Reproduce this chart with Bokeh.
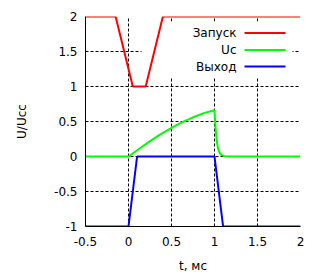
from bokeh.plotting import figure
from bokeh.models import Range1d, Label, Arrow, BoxAnnotation, FixedTicker
from bokeh.embed import file_html
from bokeh.resources import INLINE

# Series data
t_zapusk = [-0.5, -0.15, 0.05, 0.2, 0.4, 2.0]
v_zapusk = [2, 2, 1, 1, 2, 2]

t_uc = [-0.5, 0.0, 0.125, 0.25, 0.375, 0.5, 0.625, 0.75, 0.875, 1.0,
        1.01, 1.02, 1.03, 1.04, 1.06, 1.08, 1.12, 1.2, 2.0]
v_uc = [0, 0, 0.11, 0.22, 0.32, 0.41, 0.49, 0.56, 0.62, 0.66,
        0.45, 0.30, 0.19, 0.12, 0.05, 0.02, 0.005, 0, 0]

t_out = [-0.5, 0.0, 0.1, 1.0, 1.1, 2.0]
v_out = [-1, -1, 0, 0, -1, -1]

series_names = ["Запуск", "Uc", "Выход"]
series_colors = ["#ff0000", "#00ff00", "#0000ff"]

x_ticks = [-0.5, 0, 0.5, 1, 1.5, 2]
x_tick_labels = ["-0.5", "0", "0.5", "1", "1.5", "2"]
y_ticks = [-1, -0.5, 0, 0.5, 1, 1.5, 2]
y_tick_labels = ["-1", "-0.5", "0", "0.5", "1", "1.5", "2"]

FONT = "DejaVu Sans"

p = figure(width=320, height=279, output_backend="svg", toolbar_location=None,
           x_range=Range1d(-0.5, 2), y_range=Range1d(-1, 2),
           min_border_left=85, min_border_right=20, min_border_top=16,
           min_border_bottom=53)
p.outline_line_color = None
p.background_fill_color = "white"
p.border_fill_color = "white"

for ax, ticks, labels in ((p.xaxis[0], x_ticks, x_tick_labels), (p.yaxis[0], y_ticks, y_tick_labels)):
    ax.ticker = FixedTicker(ticks=ticks)
    ax.major_label_overrides = {t: l for t, l in zip(ticks, labels)}
    ax.minor_tick_line_color = None
    ax.major_tick_out = 0
    ax.major_tick_in = 0
    ax.axis_line_color = "black"
    ax.axis_line_width = 1
    ax.major_label_text_font = FONT
    ax.major_label_text_font_size = "12px"
    ax.major_label_text_color = "black"
    ax.axis_label_text_font = FONT
    ax.axis_label_text_font_size = "12px"
    ax.axis_label_text_font_style = "normal"
    ax.axis_label_text_color = "black"

p.xaxis[0].axis_label = "t, мс"
p.yaxis[0].axis_label = "U/Ucc"
p.xaxis[0].major_label_standoff = 10
p.xaxis[0].axis_label_standoff = 10
p.yaxis[0].major_label_standoff = 8
p.yaxis[0].axis_label_standoff = 22

for g in (p.xgrid[0], p.ygrid[0]):
    g.ticker = FixedTicker(ticks=x_ticks if g is p.xgrid[0] else y_ticks)
    g.grid_line_color = "black"
    g.grid_line_dash = "3 2"
    g.grid_line_width = 1
    g.grid_line_alpha = 1.0

# Legend background (hides the grid, drawn under the curves)
box = BoxAnnotation(left=56, right=207, top=205, bottom=149,
                    left_units="screen", right_units="screen",
                    top_units="screen", bottom_units="screen",
                    fill_color="white", fill_alpha=1.0, line_color=None,
                    level="underlay")
p.add_layout(box)

p.line(t_zapusk, v_zapusk, line_color=series_colors[0], line_width=2)
p.line(t_uc, v_uc, line_color=series_colors[1], line_width=2)
p.line(t_out, v_out, line_color=series_colors[2], line_width=2)

# Legend in gnuplot style: text on the left, sample line on the right
row_y = [193.6, 176.5, 160.0]
for name, color, y in zip(series_names, series_colors, row_y):
    p.add_layout(Label(x=151, y=y, x_units="screen", y_units="screen",
                       text=name, text_align="right", text_baseline="middle",
                       text_font=FONT, text_font_size="12px", text_color="black"))
    p.add_layout(Arrow(x_start=159, y_start=y, x_end=200, y_end=y,
                       start_units="screen", end_units="screen",
                       start=None, end=None, line_color=color, line_width=2))

open("out.html", "w").write(file_html(p, INLINE))
